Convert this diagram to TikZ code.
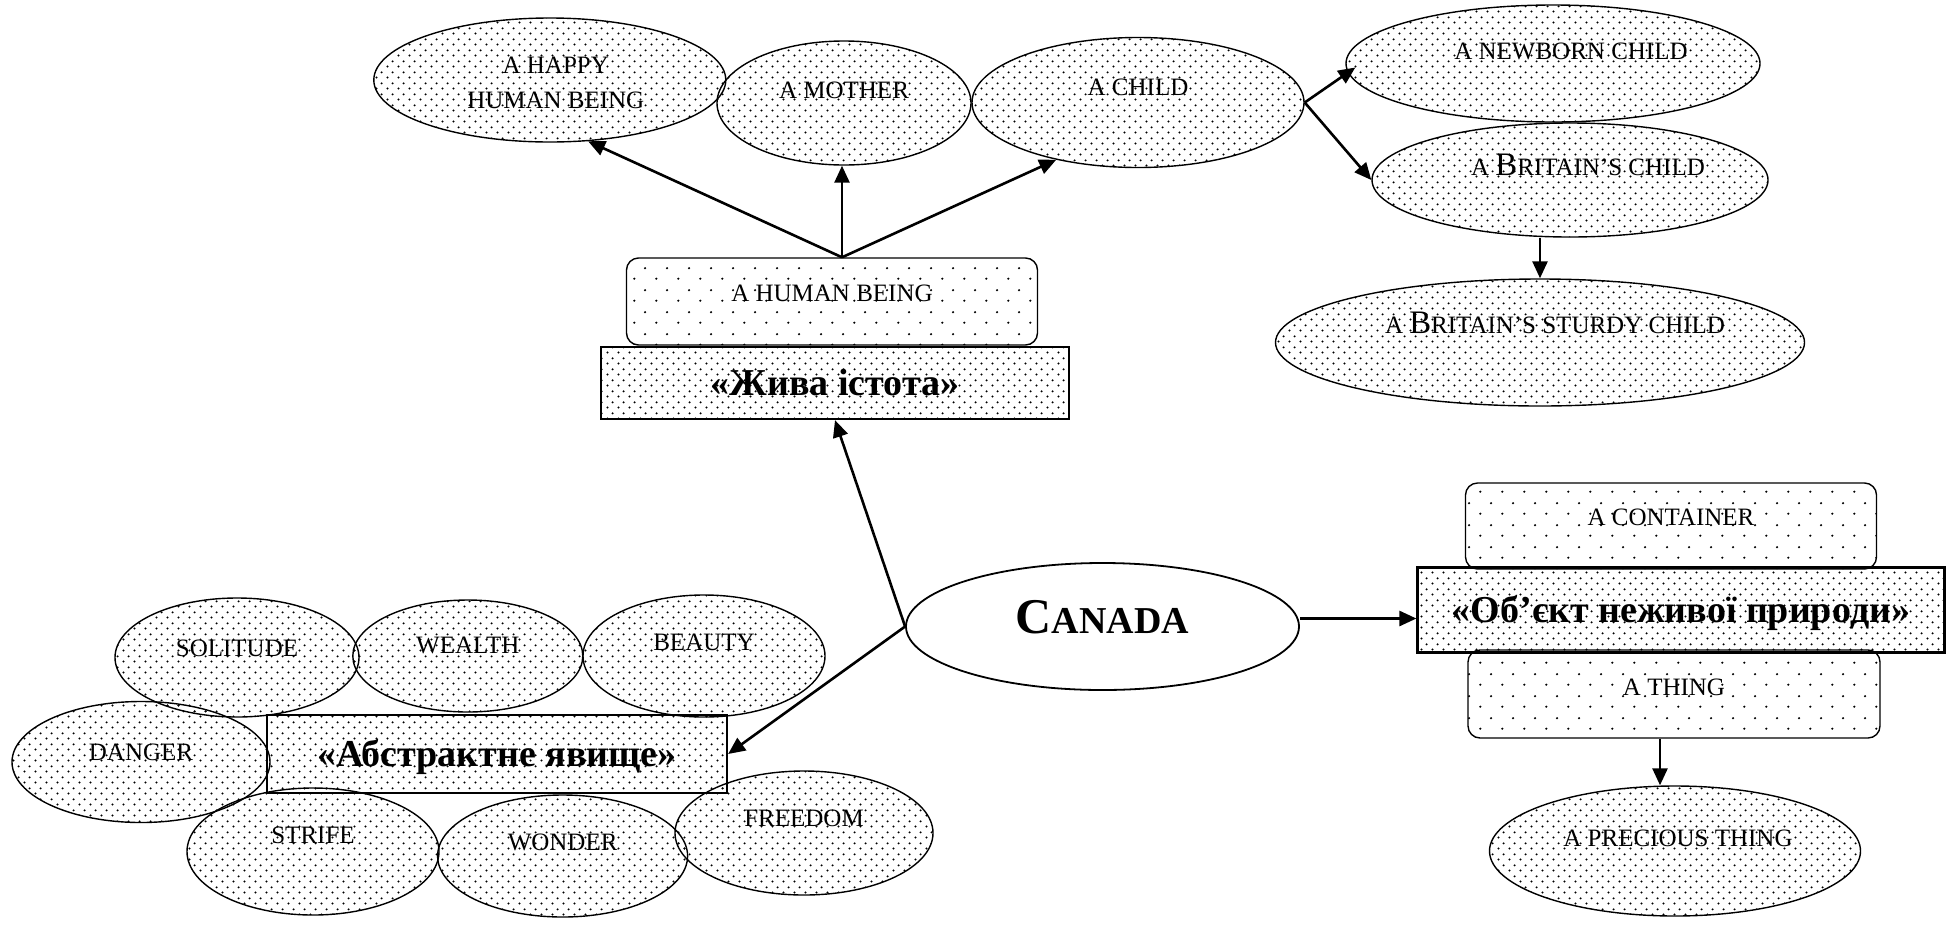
\documentclass[tikz,border=0pt]{standalone}
\usepackage{fontspec}
\setmainfont{Liberation Serif}
\usetikzlibrary{patterns,arrows.meta,shapes.geometric,calc}

% fine staggered dots for ellipses and category frames
\pgfdeclarepatternformonly{densedots}{\pgfpointorigin}{\pgfpoint{5.5pt}{5.5pt}}{\pgfpoint{5.5pt}{5.5pt}}{%
  \pgfpathcircle{\pgfpoint{1.375pt}{1.375pt}}{0.6pt}%
  \pgfpathcircle{\pgfpoint{4.125pt}{4.125pt}}{0.6pt}%
  \pgfusepath{fill}}
% wide staggered dots for the rounded tags
\pgfdeclarepatternformonly{sparsedots}{\pgfpointorigin}{\pgfpoint{10.85pt}{10.7pt}}{\pgfpoint{10.85pt}{10.7pt}}{%
  \pgfpathcircle{\pgfpoint{2.7pt}{2.7pt}}{0.6pt}%
  \pgfpathcircle{\pgfpoint{8.125pt}{8.05pt}}{0.6pt}%
  \pgfusepath{fill}}

\newcommand\bigletter[1]{{\fontsize{16.4}{18}\selectfont #1}}

\tikzset{
  base/.style={font=\fontsize{12.5}{17.5}\selectfont, inner sep=0pt, text height=8.3pt, text depth=0pt},
  sz/.style 2 args={minimum width=#1*0.5pt, minimum height=#2*0.5pt},
  lift/.style={text depth=#1pt},
  oval/.style={base, ellipse, draw, line width=0.7pt, pattern=densedots},
  tag/.style={base, rectangle, rounded corners=6pt, draw, line width=0.7pt, pattern=sparsedots},
  frame/.style={base, rectangle, draw, line width=1.1pt, pattern=densedots,
    font=\bfseries\fontsize{19}{22}\selectfont, text height=12.6pt},
  hub/.style={base, ellipse, draw, line width=0.9pt, fill=white, font=\bfseries},
  link/.style={line width=1.3pt, -{Triangle[length=8.5pt,width=7.5pt]}},
}

\begin{document}
\begin{tikzpicture}[x=0.5pt,y=-0.5pt]
\useasboundingbox (0,0) rectangle (1954,927);

% living being branch
\node[oval, sz={352}{124}, text height=28.3pt, text depth=0pt, align=center] (happy) at (549.8,80)
  {\hspace*{6pt}A HAPPY\\\hspace*{6pt}HUMAN BEING};
\node[oval, sz={254}{124}, lift=13] (mother) at (844,103) {A MOTHER};
\node[oval, sz={332}{130}, lift=15.5] (child) at (1138,102.5) {A CHILD};
\node[oval, sz={414}{117}, lift=12] (newborn) at (1553,63.5) {\hspace*{18pt}A NEWBORN CHILD};
\node[oval, sz={396}{114}, lift=13] (britain) at (1570,180) {\hspace*{18pt}A \bigletter{B}RITAIN’S CHILD};
\node[oval, sz={529}{127}, lift=17.5] (sturdy) at (1540,342.5) {\hspace*{15pt}A \bigletter{B}RITAIN’S STURDY CHILD};
\node[tag, sz={411}{87}, lift=8.5] (human) at (832,301.5) {A HUMAN BEING};
\node[frame, sz={468}{72}] (jyva) at (835,383) {«Жива істота»};

% inanimate object branch
\node[tag, sz={411}{86}, lift=9.3] (container) at (1671,526) {A CONTAINER};
\node[tag, sz={412}{88}, lift=7.3] (thing) at (1674,694) {A THING};
\node[frame, sz={527}{85}] (object) at (1681,610) {«Об’єкт неживої природи»};
\node[oval, sz={371}{130}, lift=13] (precious) at (1675,851) {\hspace*{3pt}A PRECIOUS THING};

% abstract phenomenon branch
\node[oval, sz={244}{119}, lift=9.5] (solitude) at (237,657.5) {SOLITUDE};
\node[oval, sz={230}{112}, lift=11] (wealth) at (467.8,656) {WEALTH};
\node[oval, sz={242}{122}, lift=14] (beauty) at (704,656) {BEAUTY};
\node[oval, sz={258}{121}, lift=10] (danger) at (141,762) {DANGER};
\node[oval, sz={252}{127}, lift=16.5] (strife) at (313,851.5) {STRIFE};
\node[oval, sz={250}{122}, lift=14] (wonder) at (562.6,856) {WONDER};
\node[oval, sz={258}{124}, lift=15] (freedom) at (804,833) {FREEDOM};
\node[frame, sz={460}{78}] (abstract) at (497,754) {«Абстрактне явище»};

% central concept
\node[hub, sz={393}{127}, text height=16.5pt, text depth=10pt] (canada) at (1102.5,626.5)
  {{\fontsize{25}{30}\selectfont C}{\fontsize{19}{22}\selectfont ANADA}};

% connectors
\coordinate (hbtop) at ([xshift=5pt]human.north);
\draw[link] (hbtop) -- (happy.-58);
\draw[link] (hbtop) -- (hbtop |- mother.south);
\draw[link] (hbtop) -- (child.-145);
\draw[link] (child.east) -- ([xshift=5pt,yshift=-2pt]newborn.west);
\draw[link] (child.east) -- (britain.west);
\draw[link] (sturdy.north |- britain.south) -- (sturdy.north);
\draw[link] (canada.west) -- (jyva.south);
\draw[link] (canada.west) -- (abstract.east);
\draw[link] ([yshift=4pt]canada.east) -- ([yshift=4pt]canada.east -| object.west);
\coordinate (thingfoot) at ([xshift=-7pt]thing.south);
\draw[link] (thingfoot) -- (thingfoot |- precious.north);
\end{tikzpicture}
\end{document}
